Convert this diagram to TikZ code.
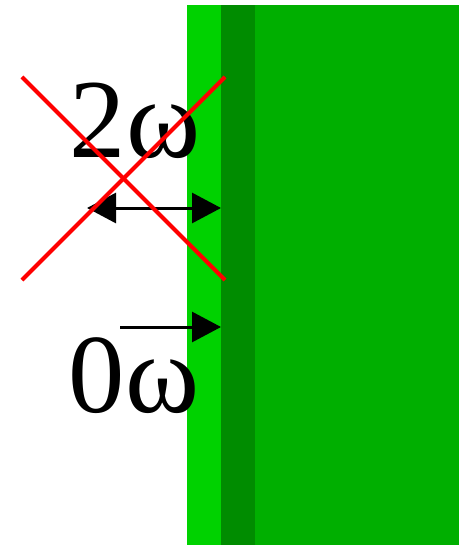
\documentclass[tikz,border=0pt]{standalone}
\usepackage{fontspec}
\setmainfont{Liberation Serif}
\usetikzlibrary{arrows.meta}
\definecolor{green-light}{HTML}{00D200}
\definecolor{green-dark}{HTML}{008C00}
\definecolor{green-mid}{HTML}{00AF00}
\definecolor{cross-red}{HTML}{FF0000}
\begin{document}
\begin{tikzpicture}[x=1bp, y=-1bp,
    every node/.style={font=\fontsize{113}{113}\selectfont, inner sep=0pt},
    push/.style={line width=3bp, -{Triangle[length=29bp, width=30bp]}},
    shove/.style={line width=3bp,
      {Triangle[length=29bp, width=30bp]}-{Triangle[length=29bp, width=30bp]}}]
    \useasboundingbox (0, 0) rectangle (463, 547);
    % layers
    \fill[green-light] (187, 5) rectangle (221, 545);
    \fill[green-dark] (221, 5) rectangle (255, 545);
    \fill[green-mid] (255, 5) rectangle (459, 545);
    % labels
    \node[anchor=base] (two) at (135, 158) {2ω};
    \node[anchor=base] (zero) at (134, 412) {0ω};
    % arrows
    \coordinate (dl) at (87, 208);
    \coordinate (dr) at (221, 208);
    \coordinate (sl) at (120, 327);
    \coordinate (sr) at (221, 327);
    \draw[shove] (dl) -- (dr);
    \draw[push] (sl) -- (sr);
    % cross
    \coordinate (xa) at (22, 77);
    \coordinate (xb) at (225, 280);
    \coordinate (xc) at (22, 280);
    \coordinate (xd) at (225, 77);
    \draw[cross-red, line width=4bp] (xa) -- (xb);
    \draw[cross-red, line width=4bp] (xc) -- (xd);
\end{tikzpicture}
\end{document}
